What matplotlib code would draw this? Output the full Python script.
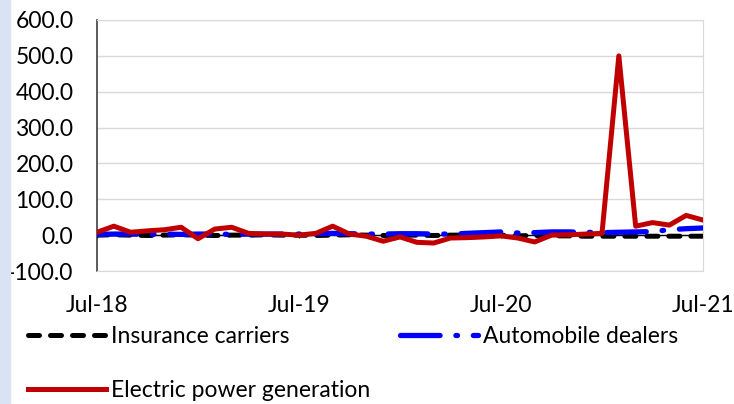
import matplotlib
matplotlib.use("Agg")
import matplotlib.pyplot as plt
from matplotlib.patches import Rectangle
import numpy as np

plt.rcParams['font.family'] = ['Lato', 'DejaVu Sans']
font = 16.5

# monthly, Jul-18 .. Jul-21
months = np.arange(37)
tick_pos = [0, 12, 24, 36]
tick_labels = ['Jul-18', 'Jul-19', 'Jul-20', 'Jul-21']

insurance = [0, 1, 0, -1, 0, 1, 0, -1, 0, 0, 1, 0,
             0, -1, 0, 1, 0, -1, 0, 0, -1, 0, 0, -1,
             0, -2, -1, -2, -2, -3, -3, -3, -3, -3, -3, -3, -3]
autos = [2, 3, 3, 2, 3, 2, 3, 3, 2, 3, 3, 3,
         3, 4, 5, 4, 3, 3, 4, 4, 3, 3, 5, 7,
         9, 6, 7, 9, 9, 8, 7, 8, 9, 10, 15, 18, 20]
electric = [8, 25, 8, 12, 15, 22, -10, 17, 22, 5, 3, 3,
            0, 5, 25, 3, -3, -17, -5, -20, -22, -8, -7, -5,
            -2, -8, -19, 0, 1, 3, 5, 500, 25, 35, 28, 55, 42]

fig = plt.figure(figsize=(7.34, 4.04), dpi=100)
fig.patches.append(Rectangle((0, 0), 10 / 734, 1, transform=fig.transFigure,
                             color='#DAE3F3', zorder=0))
ax = fig.add_axes([97 / 734, (404 - 271) / 404, 606 / 734, 251 / 404])

ax.set_ylim(-100, 600)
ax.set_xlim(0, 36)
ax.set_yticks(np.arange(-100, 601, 100))
ax.set_yticklabels(['%.1f' % v for v in np.arange(-100, 601, 100)], fontsize=font)
ax.yaxis.grid(True, color='#D9D9D9', lw=1)
ax.set_axisbelow(True)
ax.tick_params(axis='y', length=0, pad=17)

ax.set_xticks(tick_pos)
ax.set_xticklabels(tick_labels, fontsize=font)
ax.tick_params(axis='x', length=0, pad=17)

for s in ['top', 'right', 'bottom']:
    ax.spines[s].set_color('#D9D9D9')
ax.spines['left'].set_color('#404040')
ax.spines['left'].set_linewidth(1.2)

# zero axis with crossing ticks
ax.axhline(0, color='black', lw=1, zorder=1)
ax.vlines(tick_pos, -9, 9, color='black', lw=1, zorder=1)

l1, = ax.plot(months, insurance, color='black', lw=3.6, dashes=(2.2, 2.2),
              dash_capstyle='round', label='Insurance carriers', zorder=3)
l2, = ax.plot(months, autos, color='#0000FF', lw=3.8, dashes=(7.5, 3, 0.3, 3),
              dash_capstyle='round', label='Automobile dealers', zorder=4)
l3, = ax.plot(months, electric, color='#C00000', lw=3.6,
              label='Electric power generation', zorder=5)

fig.legend([l1, l3, l2], ['Insurance carriers', 'Electric power generation', 'Automobile dealers'],
           ncol=2, loc='upper left', bbox_to_anchor=(28 / 734, 1 - 326 / 404),
           frameon=False, fontsize=font, handlelength=3.4, handletextpad=0.22,
           columnspacing=1.3, labelspacing=1.45, borderpad=0, borderaxespad=0)

fig.savefig('out.png', dpi=100)
